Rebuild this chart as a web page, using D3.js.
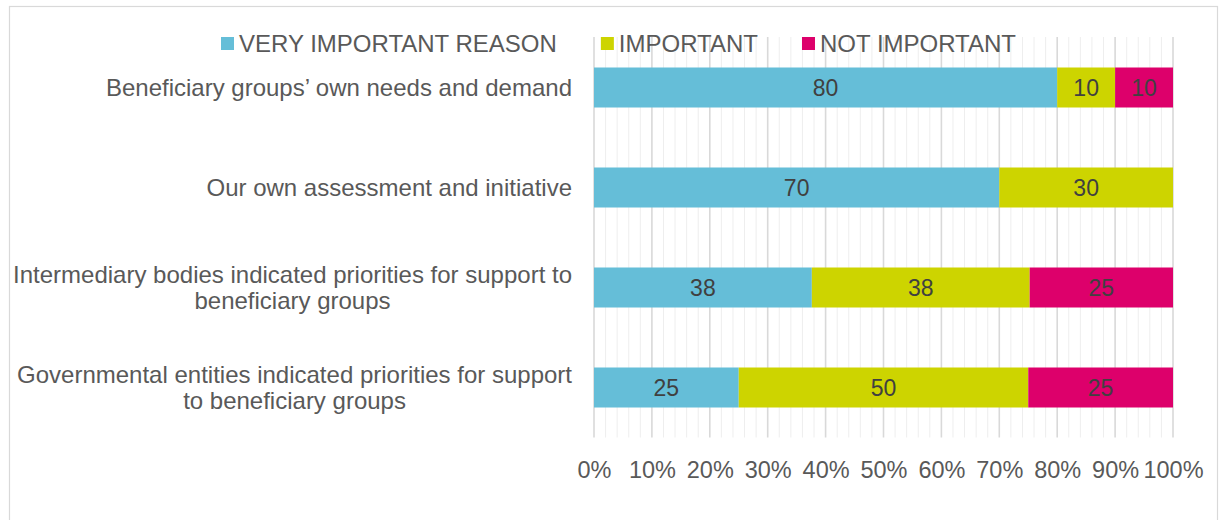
<!DOCTYPE html>
<html>
<head>
<meta charset="utf-8">
<script src="https://cdn.jsdelivr.net/npm/d3@7"></script>
<style>
  html, body { margin: 0; padding: 0; background: #fff; }
  svg { display: block; font-family: "Liberation Sans", Arial, sans-serif; }
</style>
</head>
<body>
<svg id="chart" width="1219" height="520"></svg>
<script>
// Reasons for selecting beneficiary groups, share of answers per category
const categories = [
  ["Beneficiary groups’ own needs and demand"],
  ["Our own assessment and initiative"],
  ["Intermediary bodies indicated priorities for support to", "beneficiary groups"],
  ["Governmental entities indicated priorities for support", "to beneficiary groups"]
];
const seriesNames = ["VERY IMPORTANT REASON", "IMPORTANT", "NOT IMPORTANT"];
const seriesColors = ["#65BED8", "#CDD400", "#DD006B"];
const veryImportant = [80, 70, 38, 25];
const important     = [10, 30, 38, 50];
const notImportant  = [10, 0, 25, 25];
const tickValues = [0, 10, 20, 30, 40, 50, 60, 70, 80, 90, 100];

const svg = d3.select("#chart");
const keys = categories.map(c => c.join(" "));

// Outer chart frame
svg.append("rect")
  .attr("x", 9.5).attr("y", 6.5)
  .attr("width", 1208).attr("height", 530)
  .attr("fill", "#fff").attr("stroke", "#d9d9d9").attr("stroke-width", 1.2);

const x = d3.scaleLinear().domain([0, 100]).range([594, 1173]);
const y = d3.scaleBand().domain(keys).range([37.5, 437.5]).paddingInner(0.6).paddingOuter(0.3);

// Gridlines: light minor every 2%, darker major every 10%
const grid = svg.append("g");
grid.selectAll("line.minor")
  .data(d3.range(0, 101, 2).filter(v => v % 10 !== 0))
  .join("line")
  .attr("x1", d => x(d)).attr("x2", d => x(d))
  .attr("y1", 37).attr("y2", 437.5)
  .attr("stroke", "#eeeeee").attr("stroke-width", 1);
grid.selectAll("line.major")
  .data(tickValues)
  .join("line")
  .attr("x1", d => x(d)).attr("x2", d => x(d))
  .attr("y1", 37).attr("y2", 437.5)
  .attr("stroke", "#d9d9d9").attr("stroke-width", 1.6);

// 100% stacked layout: each row normalised to its own total
const rows = keys.map((k, i) => ({
  key: k,
  values: [veryImportant[i], important[i], notImportant[i]]
}));
const segments = [];
rows.forEach(r => {
  const total = d3.sum(r.values);
  let acc = 0;
  r.values.forEach((v, s) => {
    const p0 = acc / total * 100;
    acc += v;
    const p1 = acc / total * 100;
    if (v > 0) segments.push({ key: r.key, s, v, p0, p1 });
  });
});

const bars = svg.append("g");
bars.selectAll("rect")
  .data(segments)
  .join("rect")
  .attr("x", d => x(d.p0))
  .attr("y", d => y(d.key))
  .attr("width", d => x(d.p1) - x(d.p0))
  .attr("height", y.bandwidth())
  .attr("fill", d => seriesColors[d.s]);

bars.selectAll("text")
  .data(segments)
  .join("text")
  .attr("x", d => (x(d.p0) + x(d.p1)) / 2)
  .attr("y", d => y(d.key) + y.bandwidth() / 2)
  .attr("dy", "0.36em")
  .attr("text-anchor", "middle")
  .attr("font-size", 23)
  .attr("fill", "#404040")
  .text(d => d.v);

// Category labels: block right-aligned, lines centred within the block
const labelRight = 572;
const lineH = 26;
const labels = svg.append("g").attr("font-size", 24).attr("fill", "#595959");
categories.forEach((lines, i) => {
  const cy = y(keys[i]) + y.bandwidth() / 2;
  const g = labels.append("g");
  const texts = lines.map((ln, j) =>
    g.append("text")
      .attr("y", cy + (j - (lines.length - 1) / 2) * lineH)
      .attr("dy", "0.36em")
      .attr("text-anchor", "middle")
      .text(ln));
  const w = d3.max(texts, t => t.node().getComputedTextLength());
  texts.forEach(t => t.attr("x", labelRight - w / 2));
});

// Percentage axis
const axis = svg.append("g")
  .attr("transform", "translate(0,437.5)")
  .call(d3.axisBottom(x).tickValues(tickValues).tickFormat(d => d + "%").tickSize(0).tickPadding(24));
axis.select(".domain").remove();
axis.selectAll("text")
  .attr("font-size", 23.5)
  .attr("font-family", "'Liberation Sans', Arial, sans-serif")
  .attr("fill", "#595959");

// Legend centred above the plot
const legend = svg.append("g").attr("font-size", 24).attr("fill", "#595959");
const items = seriesNames.map((name, i) => {
  const g = legend.append("g");
  g.append("rect").attr("x", 0).attr("y", -6.5).attr("width", 13).attr("height", 13)
    .attr("fill", seriesColors[i]);
  const t = g.append("text").attr("x", 18).attr("y", 0).attr("dy", "0.36em").text(name);
  return { g, w: 18 + t.node().getComputedTextLength() };
});
const gap = 44;
const totalW = d3.sum(items, d => d.w) + gap * (items.length - 1);
let lx = 618.5 - totalW / 2;
items.forEach(it => {
  it.g.attr("transform", `translate(${lx},43.5)`);
  lx += it.w + gap;
});
</script>
</body>
</html>
